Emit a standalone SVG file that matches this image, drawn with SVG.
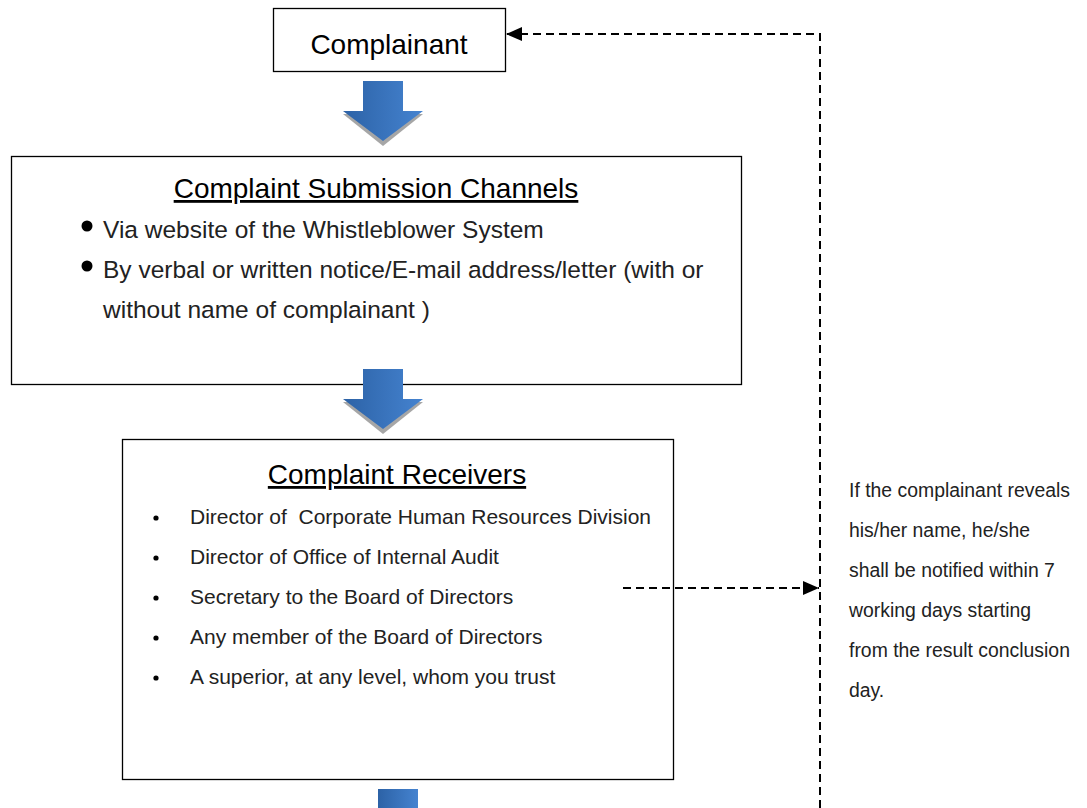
<svg xmlns="http://www.w3.org/2000/svg" width="1087" height="808" viewBox="0 0 1087 808">
<style>
.box{fill:#fff;stroke:#000;stroke-width:1.3}
.title{font-family:"Liberation Sans",Arial,sans-serif;font-size:28px;fill:#000;text-anchor:middle;text-decoration:underline}
.t1{font-family:"Liberation Sans",Arial,sans-serif;font-size:24.5px;fill:#222}
.t2{font-family:"Liberation Sans",Arial,sans-serif;font-size:21px;fill:#222}
.t3{font-family:"Liberation Sans",Arial,sans-serif;font-size:19.4px;fill:#222}
.dash{fill:none;stroke:#000;stroke-width:2;stroke-dasharray:8,5}
.arr{fill:url(#blue)}
.sh{fill:#a6a6a6}
</style>
<defs>
<linearGradient id="blue" x1="0" y1="0" x2="1" y2="0">
<stop offset="0" stop-color="#2c62a6"/>
<stop offset="1" stop-color="#4583d0"/>
</linearGradient>
<marker id="ah" viewBox="0 0 16 14" refX="16" refY="7" markerWidth="16" markerHeight="14" markerUnits="userSpaceOnUse" orient="auto">
<path d="M0,0 L16,7 L0,14 Z" fill="#000"/>
</marker>
</defs>

<g id="complainant">
<rect class="box" x="273.5" y="8.5" width="232" height="63"/>
<text x="389" y="54" font-family="Liberation Sans, Arial, sans-serif" font-size="28" text-anchor="middle" fill="#000">Complainant</text>
</g>

<g id="channels">
<rect class="box" x="11.5" y="156.5" width="730" height="228"/>
<text class="title" x="376" y="198">Complaint Submission Channels</text>
<circle cx="87" cy="226" r="5.5" fill="#000"/>
<text class="t1" x="103" y="238">Via website of the Whistleblower System</text>
<circle cx="87" cy="266" r="5.5" fill="#000"/>
<text class="t1" x="103" y="278">By verbal or written notice/E-mail address/letter (with or</text>
<text class="t1" x="103" y="318">without name of complainant )</text>
</g>

<g id="receivers">
<rect class="box" x="122.5" y="439.5" width="551" height="340"/>
<text class="title" x="397" y="484">Complaint Receivers</text>
<g fill="#000">
<circle cx="156" cy="518" r="2.6"/>
<circle cx="156" cy="558" r="2.6"/>
<circle cx="156" cy="598" r="2.6"/>
<circle cx="156" cy="638" r="2.6"/>
<circle cx="156" cy="678" r="2.6"/>
</g>
<text class="t2" x="190" y="524" xml:space="preserve">Director of  Corporate Human Resources Division</text>
<text class="t2" x="190" y="564">Director of Office of Internal Audit</text>
<text class="t2" x="190" y="604">Secretary to the Board of Directors</text>
<text class="t2" x="190" y="644">Any member of the Board of Directors</text>
<text class="t2" x="190" y="684">A superior, at any level, whom you trust</text>
</g>

<g id="arrow1">
<path class="sh" d="M363,84 H403 V114 H423 L383,146 L343,114 H363 Z"/>
<path class="arr" d="M363,81 H403 V111 H423 L383,141 L343,111 H363 Z"/>
</g>
<g id="arrow2">
<path class="sh" d="M363,372 H403 V402 H423 L383,434 L343,402 H363 Z"/>
<path class="arr" d="M363,369 H403 V399 H423 L383,429 L343,399 H363 Z"/>
</g>
<g id="arrow3">
<rect class="arr" x="378" y="789" width="40" height="25"/>
</g>

<g id="note">
<text class="t3" x="849" y="497">If the complainant reveals</text>
<text class="t3" x="849" y="537">his/her name, he/she</text>
<text class="t3" x="849" y="577">shall be notified within 7</text>
<text class="t3" x="849" y="617">working days starting</text>
<text class="t3" x="849" y="657">from the result conclusion</text>
<text class="t3" x="849" y="697">day.</text>
</g>

<g id="connectors">
<path class="dash" d="M623,588 H819" marker-end="url(#ah)"/>
<path class="dash" d="M820,808 V34 H506" marker-end="url(#ah)"/>
</g>
</svg>
